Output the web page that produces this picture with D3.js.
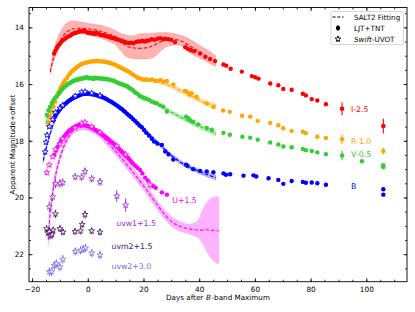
<!DOCTYPE html>
<html><head><meta charset="utf-8">
<script src="https://cdn.jsdelivr.net/npm/d3@7"></script>
<style>
html,body{margin:0;padding:0;background:#fff;}
svg{display:block;font-family:"DejaVu Sans",sans-serif;}
</style></head>
<body>
<svg id="chart" width="415" height="312"></svg>
<script>
// ---------- data (plotted magnitudes, offsets already applied) ----------
const xTicks = [-20, 0, 20, 40, 60, 80, 100];
const yTicks = [14, 16, 18, 20, 22];

// ground-based LJT+TNT photometry [day, mag]
const I_obs = [[-12.1,14.92],[-11.6,14.82],[-11.1,14.72],[-10.6,14.64],[-10.0,14.58],[-9.4,14.5],[-8.8,14.45],[-8.2,14.4],[-7.6,14.36],[-7.0,14.32],[-6.4,14.3],[-5.8,14.25],[-5.2,14.22],[-4.6,14.2],[-4.0,14.18],[-3.4,14.16],[-2.8,14.13],[-2.2,14.15],[-1.6,14.12],[-1.0,14.14],[-0.4,14.17],[0.2,14.2],[0.8,14.18],[1.4,14.22],[2.0,14.2],[2.6,14.24],[3.2,14.2],[3.8,14.22],[4.4,14.26],[5.0,14.28],[5.6,14.27],[6.2,14.3],[6.8,14.31],[7.4,14.33],[8.0,14.35],[8.6,14.37],[9.2,14.38],[9.8,14.4],[10.4,14.42],[11.0,14.44],[11.6,14.46],[12.2,14.48],[12.8,14.5],[13.4,14.52],[14.0,14.54],[14.8,14.55],[15.6,14.54],[16.4,14.56],[17.2,14.52],[18.0,14.5],[18.8,14.5],[19.6,14.47],[20.4,14.5],[21.2,14.47],[22.0,14.46],[23.0,14.42],[24.0,14.44],[25.0,14.4],[26.0,14.38],[27.0,14.42],[28.0,14.4],[29.0,14.42],[30.0,14.44],[31.3,14.52],[35.0,14.7],[36.0,14.76],[37.0,14.8],[38.2,14.84],[40.3,14.92],[42.2,15.04],[43.9,15.12],[45.7,15.19],[48.7,15.31],[49.7,15.35],[51.3,15.46],[55.3,15.56],[58.9,15.72],[60.1,15.76],[61.3,15.81],[65.5,15.98],[68.4,16.04],[70.2,16.17],[73.2,16.2],[77.2,16.34],[78.3,16.4],[80.4,16.53],[82.4,16.58],[85.5,16.71]];
const R_obs = [[-14.0,17.35],[-13.5,17.15],[-12.9,16.98],[-12.3,16.8],[-11.7,16.62],[-11.1,16.45],[-10.5,16.28],[-9.9,16.15],[-9.3,16.04],[-8.7,15.94],[-8.1,15.86],[-7.5,15.79],[-6.9,15.7],[-6.3,15.62],[-5.7,15.55],[-5.1,15.5],[-4.5,15.45],[-3.9,15.4],[-3.3,15.36],[-2.7,15.32],[-2.1,15.29],[-1.5,15.27],[-0.9,15.25],[-0.3,15.24],[0.3,15.22],[0.9,15.21],[1.5,15.2],[2.1,15.19],[2.7,15.2],[3.3,15.18],[3.9,15.2],[4.5,15.19],[5.1,15.21],[5.7,15.2],[6.3,15.22],[6.9,15.22],[7.5,15.24],[8.1,15.26],[8.7,15.28],[9.3,15.3],[9.9,15.32],[10.5,15.35],[11.1,15.38],[11.7,15.41],[12.3,15.44],[12.9,15.47],[13.5,15.5],[14.1,15.53],[14.8,15.57],[15.5,15.62],[16.2,15.66],[17.0,15.72],[17.8,15.77],[18.6,15.8],[19.4,15.83],[20.2,15.85],[21.0,15.84],[22.0,15.86],[23.0,15.84],[24.2,15.89],[25.4,15.88],[26.2,15.86],[27.1,15.92],[28.4,15.89],[30.7,16.01],[35.0,16.24],[35.8,16.29],[36.7,16.38],[37.3,16.32],[39.1,16.45],[42.7,16.68],[45.1,16.8],[48.6,16.93],[51.0,16.98],[55.4,17.12],[58.3,17.15],[61.0,17.3],[65.5,17.37],[68.4,17.45],[70.2,17.56],[73.2,17.65],[77.2,17.68],[78.3,17.73],[82.4,17.86],[85.5,17.9]];
const V_obs = [[-14.7,17.09],[-14.1,16.92],[-13.5,16.8],[-12.9,16.67],[-12.3,16.56],[-11.7,16.48],[-11.1,16.42],[-10.5,16.35],[-9.9,16.28],[-9.3,16.2],[-8.7,16.14],[-8.1,16.08],[-7.5,16.03],[-6.9,15.99],[-6.3,15.96],[-5.7,15.92],[-5.1,15.9],[-4.5,15.87],[-3.9,15.85],[-3.3,15.84],[-2.7,15.82],[-2.1,15.81],[-1.5,15.8],[-0.9,15.78],[-0.3,15.76],[0.3,15.8],[0.9,15.79],[1.5,15.8],[2.1,15.82],[2.7,15.78],[3.3,15.8],[3.9,15.79],[4.5,15.81],[5.1,15.8],[5.7,15.82],[6.3,15.81],[6.9,15.83],[7.5,15.84],[8.1,15.86],[8.7,15.87],[9.3,15.88],[9.9,15.91],[10.5,15.94],[11.1,15.97],[11.7,15.99],[12.3,16.01],[12.9,16.03],[13.5,16.05],[14.1,16.07],[14.8,16.12],[15.5,16.17],[16.2,16.22],[17.0,16.3],[17.8,16.34],[18.6,16.42],[19.4,16.46],[20.2,16.5],[21.0,16.52],[22.0,16.56],[23.0,16.62],[24.0,16.66],[24.8,16.68],[26.0,16.75],[27.1,16.8],[28.4,16.97],[35.3,17.15],[36.1,17.2],[36.8,17.28],[37.9,17.33],[39.7,17.42],[42.7,17.55],[44.5,17.61],[48.7,17.72],[51.0,17.79],[55.5,17.86],[58.3,17.89],[61.0,17.96],[65.5,18.06],[68.4,18.13],[70.2,18.2],[73.2,18.23],[77.2,18.29],[78.3,18.33],[80.4,18.36],[82.4,18.41],[85.5,18.47],[98.4,18.72],[106.1,18.86],[106.1,18.93]];
const B_obs = [[-12.3,17.28],[-11.7,17.12],[-11.1,17.02],[-10.5,16.95],[-9.9,16.86],[-9.3,16.8],[-8.7,16.74],[-8.1,16.7],[-7.5,16.65],[-6.9,16.6],[-6.3,16.56],[-5.7,16.52],[-5.1,16.49],[-4.5,16.46],[-3.9,16.43],[-3.3,16.41],[-2.7,16.38],[-2.1,16.36],[-1.5,16.35],[-0.9,16.34],[-0.3,16.34],[0.3,16.33],[0.9,16.35],[1.5,16.36],[2.1,16.37],[2.7,16.38],[3.3,16.4],[3.9,16.42],[4.5,16.44],[5.1,16.46],[5.7,16.48],[6.3,16.51],[6.9,16.54],[7.5,16.58],[8.1,16.61],[8.7,16.64],[9.3,16.68],[9.9,16.72],[10.5,16.76],[11.1,16.8],[11.7,16.85],[12.3,16.89],[12.9,16.94],[13.5,16.99],[14.1,17.05],[14.8,17.11],[15.5,17.16],[16.2,17.23],[17.0,17.3],[17.8,17.38],[18.6,17.46],[19.4,17.52],[20.2,17.62],[21.0,17.72],[22.0,17.82],[23.0,17.93],[23.8,18.03],[25.0,18.1],[26.6,18.15],[27.8,18.38],[29.0,18.48],[30.7,18.66],[35.3,18.84],[35.8,18.88],[37.9,19.0],[40.3,19.06],[42.7,19.08],[45.1,19.11],[48.7,19.15],[49.6,19.2],[51.1,19.18],[55.9,19.23],[59.5,19.22],[60.5,19.26],[64.9,19.32],[68.4,19.38],[70.2,19.52],[73.2,19.42],[77.2,19.45],[78.3,19.48],[80.4,19.47],[82.4,19.5],[85.5,19.55],[106.1,19.71],[106.1,19.9]];
const U_obs = [[-12.0,18.5],[-11.4,18.35],[-10.8,18.22],[-10.2,18.1],[-9.6,18.0],[-9.0,17.92],[-8.4,17.84],[-7.8,17.77],[-7.2,17.7],[-6.6,17.64],[-6.0,17.6],[-5.4,17.55],[-4.8,17.52],[-4.2,17.48],[-3.6,17.46],[-3.0,17.44],[-2.4,17.42],[-1.8,17.43],[-1.2,17.44],[-0.6,17.46],[0.0,17.48],[0.6,17.5],[1.2,17.53],[1.8,17.56],[2.4,17.6],[3.0,17.63],[3.6,17.67],[4.2,17.71],[4.8,17.75],[5.4,17.79],[6.0,17.84],[6.6,17.88],[7.2,17.93],[7.8,17.98],[8.4,18.03],[9.0,18.08],[9.6,18.13],[10.2,18.18],[10.8,18.24],[11.4,18.3],[12.0,18.36],[12.6,18.42],[13.2,18.48],[13.8,18.54],[14.4,18.6],[15.0,18.67],[15.6,18.74],[16.2,18.8],[17.0,18.88],[17.8,18.95],[18.8,19.03],[19.6,19.15],[20.6,19.3],[21.5,19.4],[23.6,19.6],[24.4,19.66],[26.6,19.82],[28.4,19.9]];

// late points with visible error bars [day, mag, err]
const I_err = [[91.3,16.87,0.22],[106.1,17.48,0.26]];
const R_err = [[91.3,17.95,0.16],[106.1,18.36,0.12]];
const V_err = [[91.3,18.52,0.17]];

// Swift-UVOT photometry [day, mag, err]
const B_swift = [[-15.3,18.39,0.1],[-15.0,18.05,0.1],[-14.6,17.8,0.08],[-13.8,17.5,0.08],[-12.6,17.25,0.06],[-11.6,17.0,0.06],[-10.0,16.85,0.05],[-9.0,16.75,0.05],[-4.5,16.42,0.05],[-2.2,16.28,0.05],[-1.0,16.27,0.05],[1.4,16.32,0.05],[4.4,16.4,0.05]];
const U_swift = [[-14.7,19.12,0.1],[-13.8,18.85,0.08],[-12.6,18.56,0.07],[-11.6,18.3,0.06],[-10.0,18.12,0.06],[-9.0,17.93,0.06],[-4.5,17.55,0.05],[-2.2,17.38,0.05],[-1.0,17.35,0.05],[1.4,17.5,0.05],[4.4,17.7,0.06],[10.4,18.18,0.08],[13.6,18.48,0.1],[22.4,19.55,0.15]];
const uvw1 = [[-13.8,20.33,0.18],[-12.6,19.98,0.15],[-11.6,19.52,0.15],[-10.0,19.5,0.15],[-9.0,19.47,0.14],[-4.5,19.27,0.13],[-2.2,19.28,0.13],[-1.0,19.08,0.14],[1.4,19.34,0.13],[4.4,19.45,0.14],[10.4,19.95,0.2],[13.6,20.27,0.24]];
const uvm2 = [[-14.8,21.1,0.12],[-14.3,21.25,0.12],[-13.8,21.2,0.12],[-13.3,21.35,0.12],[-12.8,21.3,0.12],[-12.4,21.15,0.12],[-11.6,20.58,0.14],[-10.0,21.1,0.12],[-8.9,21.22,0.12],[-4.6,21.2,0.12],[-2.6,21.18,0.12],[-2.0,20.95,0.13],[-1.0,20.6,0.14],[1.4,21.18,0.12],[4.4,21.22,0.13]];
const uvw2 = [[-13.8,22.62,0.15],[-13.0,22.62,0.15],[-12.0,22.4,0.15],[-11.3,22.33,0.15],[-10.0,22.45,0.15],[-9.0,22.18,0.15],[-4.5,21.9,0.14],[-2.6,21.86,0.14],[-1.6,21.82,0.14],[-0.8,21.78,0.14],[1.4,21.96,0.14],[4.4,22.03,0.15]];

// SALT2 fits [day, mag, bright edge, faint edge]
const I_fit = [[-13.5,15.57,15.5,15.65],[-12.5,15.15,14.95,15.3],[-11.5,14.82,14.55,15.0],[-10.5,14.58,14.3,14.8],[-9.5,14.4,14.1,14.62],[-8.5,14.26,13.95,14.48],[-7.5,14.16,13.85,14.38],[-6.5,14.1,13.79,14.3],[-5.5,14.06,13.77,14.25],[-4.5,14.04,13.78,14.22],[-3.5,14.03,13.8,14.2],[-2,14.03,13.82,14.22],[0,14.05,13.86,14.26],[2,14.08,13.88,14.3],[4,14.12,13.92,14.36],[6,14.18,13.96,14.44],[8,14.24,14.02,14.52],[10,14.33,14.12,14.62],[12,14.5,14.22,14.85],[14,14.66,14.28,15.05],[16,14.72,14.3,15.1],[18,14.74,14.24,15.12],[20,14.73,14.22,15.12],[22,14.7,14.22,15.1],[24,14.62,14.2,15.04],[26,14.52,14.18,14.85],[28,14.45,14.18,14.7],[30,14.43,14.2,14.64],[32,14.44,14.24,14.62],[34,14.5,14.3,14.66],[36,14.62,14.38,14.86],[38,14.74,14.5,14.98],[40,14.86,14.62,15.08],[42,14.98,14.74,15.18],[44,15.08,14.86,15.28],[46,15.15,15.0,15.38]];
const R_fit = [[-14.5,17.55,17.4,17.7],[-14,17.3,17.18,17.42],[-13,16.95,16.85,17.05],[-12,16.68,16.6,16.76],[-11,16.42,16.35,16.49],[-10,16.2,16.14,16.26],[-9,16.0,15.94,16.06],[-8,15.84,15.79,15.89],[-7,15.7,15.65,15.75],[-6,15.58,15.53,15.63],[-5,15.48,15.43,15.53],[-4,15.4,15.35,15.45],[-3,15.33,15.28,15.38],[-2,15.28,15.23,15.33],[-1,15.24,15.19,15.29],[0,15.22,15.17,15.27],[2,15.2,15.15,15.25],[4,15.2,15.15,15.25],[6,15.23,15.18,15.28],[8,15.28,15.23,15.33],[10,15.35,15.3,15.4],[12,15.45,15.39,15.51],[14,15.56,15.5,15.62],[16,15.67,15.61,15.73],[18,15.76,15.7,15.82],[20,15.82,15.76,15.88],[22,15.85,15.79,15.91],[24,15.88,15.82,15.94],[26,15.93,15.86,16.0],[28,16.0,15.93,16.07],[30,16.08,16.01,16.15],[32,16.17,16.09,16.25],[34,16.26,16.18,16.34],[36,16.36,16.28,16.44],[38,16.46,16.38,16.54],[40,16.56,16.48,16.64],[42,16.65,16.56,16.74],[44,16.73,16.64,16.82],[46,16.8,16.7,16.9]];
const V_fit = [[-15,17.4,17.28,17.52],[-14,17.02,16.92,17.12],[-13,16.75,16.67,16.83],[-12,16.55,16.48,16.62],[-11,16.38,16.32,16.44],[-10,16.25,16.2,16.3],[-9,16.13,16.08,16.18],[-8,16.03,15.98,16.08],[-7,15.95,15.9,16.0],[-6,15.89,15.84,15.94],[-5,15.84,15.79,15.89],[-4,15.8,15.75,15.85],[-2,15.76,15.71,15.81],[0,15.75,15.7,15.8],[2,15.76,15.71,15.81],[4,15.78,15.73,15.83],[6,15.81,15.76,15.86],[8,15.86,15.81,15.91],[10,15.93,15.88,15.98],[12,16.02,15.97,16.07],[14,16.12,16.06,16.18],[16,16.23,16.17,16.29],[18,16.34,16.28,16.4],[20,16.44,16.38,16.5],[22,16.54,16.48,16.6],[24,16.64,16.58,16.7],[26,16.75,16.69,16.81],[28,16.88,16.82,16.94],[30,16.99,16.92,17.06],[32,17.1,17.03,17.17],[34,17.2,17.13,17.27],[36,17.3,17.23,17.37],[38,17.4,17.32,17.48],[40,17.49,17.41,17.57],[42,17.57,17.49,17.65],[44,17.66,17.58,17.74],[46,17.74,17.65,17.83]];
const B_fit = [[-16,18.7,18.6,18.8],[-15,18.3,18.22,18.38],[-14,17.92,17.85,17.99],[-13,17.6,17.54,17.66],[-12,17.32,17.27,17.37],[-11,17.12,17.07,17.17],[-10,16.96,16.91,17.01],[-9,16.82,16.77,16.87],[-8,16.71,16.66,16.76],[-7,16.62,16.57,16.67],[-6,16.54,16.49,16.59],[-5,16.47,16.42,16.52],[-4,16.42,16.37,16.47],[-2,16.36,16.31,16.41],[0,16.34,16.29,16.39],[2,16.36,16.31,16.41],[4,16.41,16.36,16.46],[6,16.49,16.44,16.54],[8,16.6,16.55,16.65],[10,16.72,16.67,16.77],[12,16.86,16.81,16.91],[14,17.02,16.97,17.07],[16,17.19,17.14,17.24],[18,17.38,17.32,17.44],[20,17.57,17.51,17.63],[22,17.77,17.71,17.83],[24,17.96,17.9,18.02],[26,18.15,18.09,18.21],[28,18.34,18.28,18.4],[30,18.52,18.46,18.58],[32,18.67,18.6,18.74],[34,18.8,18.73,18.87],[36,18.91,18.84,18.98],[38,19.0,18.93,19.07],[40,19.08,19.0,19.16],[42,19.16,19.08,19.24],[44,19.23,19.15,19.31],[46,19.3,19.21,19.39]];
const U_fit = [[-14.2,21.5,21.2,21.7],[-13.8,20.9,20.65,21.1],[-13.2,20.3,20.1,20.5],[-12.5,19.75,19.58,19.9],[-11.5,19.2,19.05,19.33],[-10.5,18.78,18.65,18.9],[-9.5,18.45,18.33,18.56],[-8.5,18.18,18.07,18.29],[-7.5,17.97,17.86,18.08],[-6.5,17.8,17.7,17.9],[-5.5,17.68,17.58,17.78],[-4.5,17.6,17.5,17.7],[-3.5,17.55,17.45,17.65],[-2,17.52,17.42,17.62],[0,17.54,17.44,17.64],[2,17.62,17.52,17.73],[4,17.76,17.65,17.87],[6,17.94,17.82,18.06],[8,18.15,18.03,18.27],[10,18.37,18.24,18.5],[12,18.6,18.47,18.73],[14,18.84,18.7,18.98],[16,19.08,18.93,19.23],[18,19.33,19.18,19.48],[20,19.58,19.43,19.73],[22,19.86,19.71,20.01],[24,20.13,19.98,20.28],[26,20.4,20.25,20.56],[28,20.64,20.48,20.8],[30,20.84,20.68,21.0],[32,20.97,20.8,21.14],[34,21.05,20.88,21.22],[36,21.1,20.94,21.27],[38,21.13,20.92,21.35],[40,21.15,20.75,21.45],[41,21.15,20.5,21.6],[42,21.14,20.3,21.75],[43,21.14,20.15,21.95],[44,21.15,20.05,22.1],[45,21.16,20.0,22.22],[46,21.17,19.98,22.3],[47,21.18,19.97,22.33]];

// band labels [text, day, mag]
const bandLabels = [["I-2.5",94.5,16.89],["R-1.0",94.5,18.03],["V-0.5",94.5,18.47],["B",94.5,19.62],["U+1.5",30.3,20.1],["uvw1+1.5",10.2,20.9],["uvm2+1.5",8.5,21.71],["uvw2+3.0",8.5,22.41]];

// ---------- styles ----------
const col = {I:"#ff0000",R:"#ffa500",V:"#32cd32",B:"#0000ff",U:"#ff00ff",w1:"#9b30d9",m2:"#4b1466",w2:"#7b68ee"};
const labelCols = [col.I,col.R,col.V,col.B,col.U,col.w1,col.m2,col.w2];

const svg = d3.select("#chart");
const L=29, R=407, T=7.5, Bm=281.7;
const x = d3.scaleLinear().domain([-21.1,114.6]).range([L,R]);
const y = d3.scaleLinear().domain([13.3,22.97]).range([T,Bm]);

svg.append("defs").append("clipPath").attr("id","clip").append("rect")
  .attr("x",L).attr("y",T).attr("width",R-L).attr("height",Bm-T);
const plot = svg.append("g").attr("clip-path","url(#clip)");

// bands and fit lines
const area = d3.area().x(d=>x(d[0])).y0(d=>y(d[2])).y1(d=>y(d[3])).curve(d3.curveMonotoneX);
const line = d3.line().x(d=>x(d[0])).y(d=>y(d[1])).curve(d3.curveMonotoneX);
const fits = [[I_fit,col.I,0.3],[R_fit,col.R,0.35],[V_fit,col.V,0.35],[B_fit,col.B,0.3],[U_fit,col.U,0.3]];
fits.forEach(([f,c,a])=>{
  plot.append("path").datum(f).attr("d",area).attr("fill",c).attr("fill-opacity",a).attr("stroke",c).attr("stroke-opacity",a*0.8).attr("stroke-width",0.6);
});
fits.forEach(([f,c])=>{
  plot.append("path").datum(f).attr("d",line).attr("fill","none").attr("stroke",c).attr("stroke-width",1.1).attr("stroke-dasharray","3.5,2");
});

// ground points
function circles(data,c){
  plot.append("g").selectAll("circle").data(data).join("circle")
    .attr("cx",d=>x(d[0])).attr("cy",d=>y(d[1])).attr("r",2.2).attr("fill",c);
}
function errCircles(data,c){
  const g = plot.append("g");
  g.selectAll("line").data(data).join("line")
    .attr("x1",d=>x(d[0])).attr("x2",d=>x(d[0]))
    .attr("y1",d=>y(d[1]-d[2])).attr("y2",d=>y(d[1]+d[2]))
    .attr("stroke",c).attr("stroke-width",1.1);
  g.selectAll("circle").data(data).join("circle")
    .attr("cx",d=>x(d[0])).attr("cy",d=>y(d[1])).attr("r",2.3).attr("fill",c);
}
const star = d3.symbol().type(d3.symbolStar).size(11);
function stars(data,c){
  const g = plot.append("g");
  g.selectAll("line").data(data).join("line")
    .attr("x1",d=>x(d[0])).attr("x2",d=>x(d[0]))
    .attr("y1",d=>y(d[1]-d[2])).attr("y2",d=>y(d[1]+d[2]))
    .attr("stroke",c).attr("stroke-width",1);
  g.selectAll("path").data(data).join("path")
    .attr("d",star).attr("transform",d=>`translate(${x(d[0])},${y(d[1])})`)
    .attr("fill","#fff").attr("stroke",c).attr("stroke-width",0.8);
}
circles(I_obs,col.I); circles(R_obs,col.R); circles(V_obs,col.V); circles(B_obs,col.B); circles(U_obs,col.U);
errCircles(I_err,col.I); errCircles(R_err,col.R); errCircles(V_err,col.V);
stars(B_swift,col.B); stars(U_swift,col.U);
stars(uvw1,col.w1); stars(uvm2,col.m2); stars(uvw2,col.w2);

// labels
svg.append("g").selectAll("text").data(bandLabels).join("text")
  .attr("x",d=>x(d[1])).attr("y",d=>y(d[2])).attr("dy","0.35em")
  .attr("font-size","7.8px").attr("fill",(d,i)=>labelCols[i]).text(d=>d[0]);

// axes
function minors(a,b,s){const r=[];for(let v=a;v<=b+1e-9;v+=s)r.push(+v.toFixed(2));return r;}
const xMinor = minors(-20,110,5), yMinor = minors(13.5,22.5,0.5);
const axG = svg.append("g");
function styleAxis(g){g.attr("font-size",7.3).attr("font-family","DejaVu Sans");g.select(".domain").remove();g.selectAll("line").attr("stroke","#000").attr("stroke-width",0.8);g.selectAll("text").attr("fill","#000");}
axG.append("g").attr("transform",`translate(0,${Bm})`).call(d3.axisBottom(x).tickValues(xTicks).tickSize(-3.5).tickPadding(5).tickFormat(d=>d<0?"\u2212"+Math.abs(d):d)).call(styleAxis);
axG.append("g").attr("transform",`translate(0,${Bm})`).call(d3.axisBottom(x).tickValues(xMinor).tickSize(-2).tickFormat("")).call(styleAxis);
axG.append("g").attr("transform",`translate(0,${T})`).call(d3.axisTop(x).tickValues(xTicks).tickSize(-3.5).tickFormat("")).call(styleAxis);
axG.append("g").attr("transform",`translate(0,${T})`).call(d3.axisTop(x).tickValues(xMinor).tickSize(-2).tickFormat("")).call(styleAxis);
axG.append("g").attr("transform",`translate(${L},0)`).call(d3.axisLeft(y).tickValues(yTicks).tickSize(-3.5).tickPadding(5)).call(styleAxis);
axG.append("g").attr("transform",`translate(${L},0)`).call(d3.axisLeft(y).tickValues(yMinor).tickSize(-2).tickFormat("")).call(styleAxis);
axG.append("g").attr("transform",`translate(${R},0)`).call(d3.axisRight(y).tickValues(yTicks).tickSize(-3.5).tickFormat("")).call(styleAxis);
axG.append("g").attr("transform",`translate(${R},0)`).call(d3.axisRight(y).tickValues(yMinor).tickSize(-2).tickFormat("")).call(styleAxis);
svg.append("rect").attr("x",L).attr("y",T).attr("width",R-L).attr("height",Bm-T).attr("fill","none").attr("stroke","#000").attr("stroke-width",0.9);

// x-axis title built from separately measured pieces (B italic)
const parts = [["Days after ","normal"],["B","italic"],["-band Maximum","normal"]];
const xtG = svg.append("g");
const pieces = parts.map(([t,s])=>xtG.append("text").attr("y",299.5).attr("font-size","7.2px").attr("font-style",s).attr("fill","#000").attr("xml:space","preserve").text(t));
const widths = pieces.map(p=>p.node().getComputedTextLength());
const total = widths.reduce((a,b)=>a+b,0)+1;
let cx = 218 - total/2;
pieces.forEach((p,i)=>{p.attr("x",cx); cx += widths[i] + 0.5;});

svg.append("text").attr("transform",`translate(12.5,${(T+Bm)/2}) rotate(-90)`).attr("text-anchor","middle")
  .attr("dy","0.35em").attr("font-size","7.2px").attr("fill","#000").text("Apparent Magnitude+offset");

// legend
const lg = svg.append("g");
lg.append("rect").attr("x",331).attr("y",11.5).attr("width",72.5).attr("height",33).attr("rx",2)
  .attr("fill","#fff").attr("fill-opacity",0.85).attr("stroke","#ccc").attr("stroke-width",0.8);
lg.append("line").attr("x1",332.5).attr("x2",343.5).attr("y1",17).attr("y2",17).attr("stroke","#000").attr("stroke-width",1.1).attr("stroke-dasharray","3,1.8");
lg.append("line").attr("x1",338).attr("x2",338).attr("y1",25).attr("y2",31).attr("stroke","#000").attr("stroke-width",1);
lg.append("circle").attr("cx",338).attr("cy",28).attr("r",2.2).attr("fill","#000");
lg.append("line").attr("x1",338).attr("x2",338).attr("y1",36).attr("y2",42).attr("stroke","#000").attr("stroke-width",1);
lg.append("path").attr("d",star).attr("transform","translate(338,39)").attr("fill","#fff").attr("stroke","#000").attr("stroke-width",0.8);
lg.append("text").attr("x",354).attr("y",17).attr("dy","0.35em").attr("font-size","7.2px").text("SALT2 Fitting");
lg.append("text").attr("x",354).attr("y",28).attr("dy","0.35em").attr("font-size","7.2px").text("LJT+TNT");
const st = lg.append("text").attr("x",354).attr("y",39).attr("dy","0.35em").attr("font-size","7.2px");
st.append("tspan").attr("font-style","italic").text("Swift");
st.append("tspan").attr("xml:space","preserve").text("-UVOT");
</script>
</body></html>
